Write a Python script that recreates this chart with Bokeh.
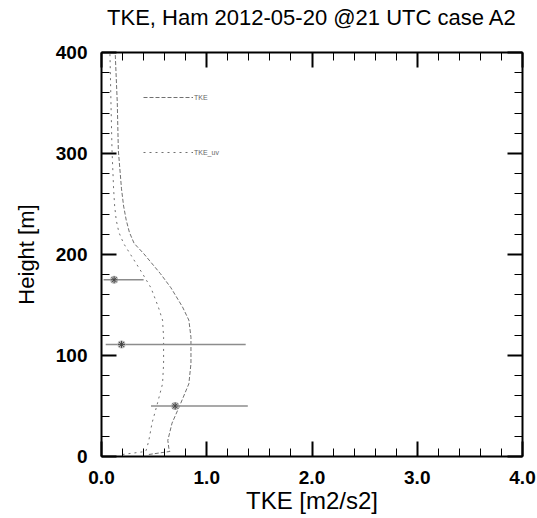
from bokeh.plotting import figure
from bokeh.models import (LinearAxis, Range1d, FixedTicker, Legend, LegendItem,
                          ColumnDataSource)
from bokeh.embed import file_html
from bokeh.resources import INLINE

# ---- data ----
height = [2, 5, 8, 16, 33, 52, 72, 92, 118, 135, 148, 167, 181, 201, 211, 222, 234, 248, 265,
          303, 350, 400]
tke = [0.45, 0.65, 0.64, 0.63, 0.67, 0.75, 0.83, 0.85, 0.85, 0.83, 0.77, 0.66, 0.56, 0.40, 0.31,
       0.265, 0.235, 0.21, 0.19, 0.16, 0.15, 0.13]
tke_uv = [0.20, 0.42, 0.43, 0.45, 0.48, 0.53, 0.58, 0.59, 0.59, 0.58, 0.54, 0.47, 0.39, 0.27, 0.21,
          0.165, 0.14, 0.125, 0.115, 0.10, 0.09, 0.08]

obs_height = [50, 111, 175]
obs_tke = [0.70, 0.19, 0.12]
obs_low = [0.47, 0.04, 0.02]
obs_high = [1.39, 1.37, 0.40]

x_ticks = [0, 1, 2, 3, 4]
x_tick_labels = ["0.0", "1.0", "2.0", "3.0", "4.0"]
y_ticks = [0, 100, 200, 300, 400]

title_text = "TKE, Ham 2012-05-20 @21 UTC case A2"
x_label_text = "TKE [m2/s2]"
y_label_text = "Height [m]"

FONT = "Liberation Sans"

p = figure(width=537, height=518, output_backend="svg", toolbar_location=None,
           x_range=Range1d(0, 4), y_range=Range1d(0, 400), title=None,
           min_border_left=101, min_border_right=15, min_border_top=52, min_border_bottom=62,
           x_axis_type=None, y_axis_type=None)
p.outline_line_color = None
p.grid.visible = False


def style_axis(ax, labels=True):
    ax.axis_line_width = 2
    ax.axis_line_color = "black"
    ax.major_tick_in = 15
    ax.major_tick_out = 0
    ax.minor_tick_in = 8
    ax.minor_tick_out = 0
    ax.major_tick_line_width = 2
    ax.minor_tick_line_width = 1
    ax.major_label_text_font = FONT
    ax.major_label_text_color = "black"
    ax.axis_label_text_color = "black"
    ax.axis_label_text_font = FONT
    ax.axis_label_text_font_style = "normal"
    ax.axis_label_text_font_size = "22px"
    ax.major_label_text_font_style = "bold"
    ax.major_label_text_font_size = "19px"
    if not labels:
        ax.major_label_standoff = 0
        ax.major_label_text_font_size = "1px"


xt = FixedTicker(ticks=x_ticks, minor_ticks=[i * 0.2 for i in range(21)])
yt = FixedTicker(ticks=y_ticks, minor_ticks=list(range(0, 401, 20)))

xb = LinearAxis(ticker=xt, axis_label=x_label_text,
                major_label_overrides={t: l for t, l in zip(x_ticks, x_tick_labels)})
style_axis(xb)
xb.axis_label_text_font_size = "24px"
xb.major_label_standoff = 14
xb.axis_label_standoff = 0
p.add_layout(xb, "below")

yl = LinearAxis(ticker=yt, axis_label=y_label_text)
style_axis(yl)
yl.major_label_standoff = 14
yl.axis_label_standoff = 14
p.add_layout(yl, "left")

# top axis carries the chart title as its label
xa = LinearAxis(ticker=xt, axis_label=title_text,
                major_label_overrides={t: "" for t in x_ticks})
style_axis(xa, labels=False)
xa.axis_label_standoff = 23
p.add_layout(xa, "above")
yr = LinearAxis(ticker=yt, major_label_overrides={t: "" for t in y_ticks})
style_axis(yr, labels=False)
p.add_layout(yr, "right")

src = ColumnDataSource(dict(h=height, tke=tke, uv=tke_uv))
r1 = p.line("tke", "h", source=src, line_color="#707070", line_width=1, line_dash="4 2")
r2 = p.line("uv", "h", source=src, line_color="#707070", line_width=1, line_dash="2 4")

osrc = ColumnDataSource(dict(h=obs_height, x=obs_tke, lo=obs_low, hi=obs_high))
p.segment(x0="lo", y0="h", x1="hi", y1="h", source=osrc, line_color="#8c8c8c", line_width=1.5)
p.scatter("x", "h", source=osrc, marker="circle", size=8, fill_color="#bbbbbb",
          line_color=None)
p.scatter("x", "h", source=osrc, marker="asterisk", size=7, line_color="#444444",
          line_width=1)

legend = Legend(items=[LegendItem(label="TKE", renderers=[r1]),
                       LegendItem(label="TKE_uv", renderers=[r2])],
                location=(42, 299), orientation="vertical",
                glyph_width=50, glyph_height=10, label_height=10, label_standoff=1,
                spacing=45, padding=0, margin=0,
                border_line_color=None, background_fill_alpha=0,
                label_text_font=FONT, label_text_font_size="7px", label_text_color="#666666")
p.add_layout(legend, "center")

open("out.html", "w").write(file_html(p, INLINE))
